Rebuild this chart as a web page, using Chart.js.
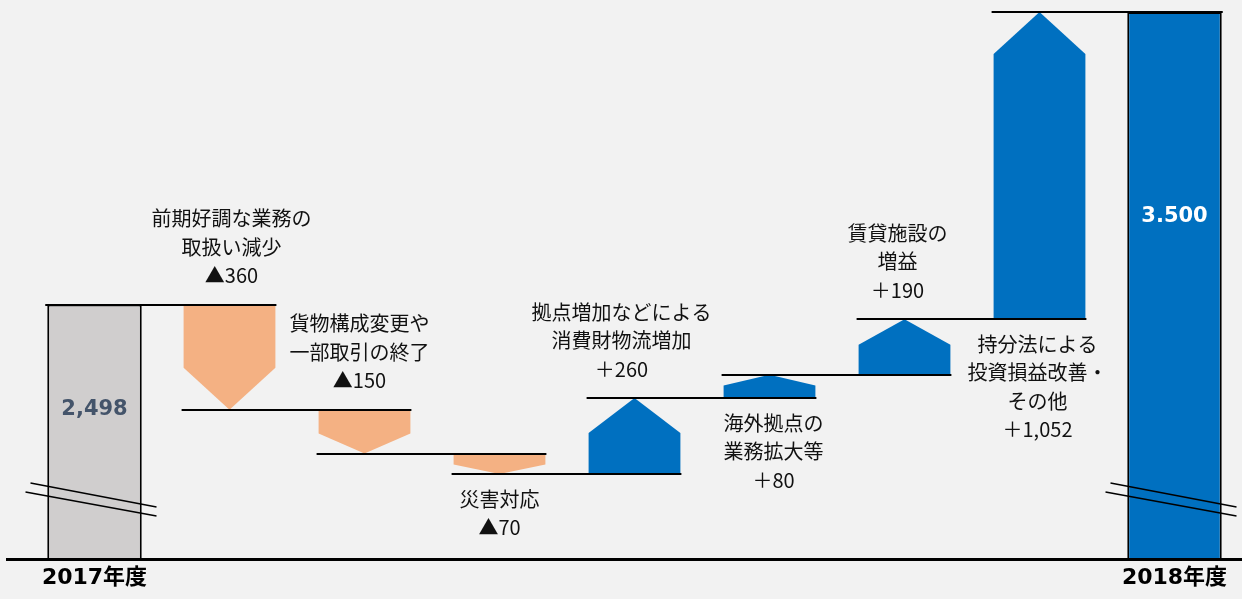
<!DOCTYPE html>
<html lang="ja">
<head>
<meta charset="utf-8">
<title>営業利益 増減要因</title>
<script src="https://cdn.jsdelivr.net/npm/chart.js@4.4.1/dist/chart.umd.min.js"></script>
<style>
	html, body { margin: 0; padding: 0; background: #f2f2f2; }
	#wrap { width: 1242px; height: 599px; position: relative; }
</style>
</head>
<body>
<div id="wrap"><canvas id="chart-waterfall"></canvas></div>
<script>
// data
const yearLabels = ['2017年度', '2018年度'];
const startValue = 2498;
const endValue = 3500;
const totalText = ['2,498', '3.500'];
const stepLabels = [
	['前期好調な業務の', '取扱い減少'],
	['貨物構成変更や', '一部取引の終了'],
	['災害対応'],
	['拠点増加などによる', '消費財物流増加'],
	['海外拠点の', '業務拡大等'],
	['賃貸施設の', '増益'],
	['持分法による', '投資損益改善・', 'その他']
];
const stepValues = [-360, -150, -70, 260, 80, 190, 1052];
// axis is broken at the bottom, so it does not start at zero
const axisMin = 1627;
const axisMax = 3541;

// label above / below the arrow
const labelSide = ['up', 'up', 'down', 'up', 'down', 'up', 'down'];
const labelShift = [2, -5, 0, -13, 4, -7, -2];

const COLOR_DOWN = '#f4b183';
const COLOR_UP = '#0070c0';
const TEXT_FONT = '20px "Noto Sans CJK JP", sans-serif';

// running levels
let levels = [startValue];
stepValues.forEach((v, i) => { levels.push(levels[i] + v); });

const n = stepValues.length + 2;
const labels = [yearLabels[0]].concat(stepValues.map(() => ''), [yearLabels[1]]);

let totalData = new Array(n).fill(null);
totalData[0] = [axisMin, startValue];
totalData[n - 1] = [axisMin, endValue];

let stepData = [null];
stepValues.forEach((v, i) => {
	stepData.push([levels[i], levels[i + 1]]);
});
stepData.push(null);

function fmtStep(v) {
	const s = Math.abs(v).toLocaleString('en-US');
	return (v < 0 ? '▲' : '＋') + s;
}

const waterfallPlugin = {
	id: 'waterfall',
	afterDatasetsDraw(chart) {
		const ctx = chart.ctx;
		const ys = chart.scales.y;
		const area = chart.chartArea;
		const tot = chart.getDatasetMeta(0).data;
		const steps = chart.getDatasetMeta(1).data;
		ctx.save();

		// arrows
		stepValues.forEach((v, i) => {
			const el = steps[i + 1];
			const p = el.getProps(['x', 'width'], true);
			const pFrom = ys.getPixelForValue(levels[i]);
			const pTo = ys.getPixelForValue(levels[i + 1]);
			const h = Math.abs(pTo - pFrom);
			const tip = Math.min(42, h * 0.46);
			const d = pTo > pFrom ? 1 : -1;
			const l = p.x - p.width / 2, r = p.x + p.width / 2;
			ctx.beginPath();
			ctx.moveTo(l, pFrom);
			ctx.lineTo(r, pFrom);
			ctx.lineTo(r, pTo - d * tip);
			ctx.lineTo(p.x, pTo);
			ctx.lineTo(l, pTo - d * tip);
			ctx.closePath();
			ctx.fillStyle = v < 0 ? COLOR_DOWN : COLOR_UP;
			ctx.fill();
		});

		// connector lines: each level spans its bar and the next one
		ctx.strokeStyle = '#000';
		ctx.lineWidth = 2;
		const all = [tot[0]].concat(steps.slice(1, n - 1), [tot[n - 1]]);
		levels.forEach((lv, i) => {
			const a = all[i].getProps(['x', 'width'], true);
			const b = all[i + 1].getProps(['x', 'width'], true);
			const yy = Math.round(ys.getPixelForValue(lv));
			ctx.beginPath();
			ctx.moveTo(a.x - a.width / 2 - 2, yy);
			ctx.lineTo(b.x + b.width / 2 + 1, yy);
			ctx.stroke();
		});

		// baseline
		ctx.lineWidth = 3;
		ctx.beginPath();
		ctx.moveTo(6, area.bottom + 0.5);
		ctx.lineTo(chart.width, area.bottom + 0.5);
		ctx.stroke();

		// break marks on the two totals
		ctx.lineWidth = 1.5;
		[0, n - 1].forEach((k) => {
			const x = tot[k].x;
			const yb = area.bottom;
			[[0, 0], [-5, 9]].forEach((o) => {
				ctx.beginPath();
				ctx.moveTo(x - 64 + o[0], yb - 76 + o[1]);
				ctx.lineTo(x + 62, yb - 52 + o[1]);
				ctx.stroke();
			});
		});

		// total values
		ctx.textAlign = 'center';
		ctx.textBaseline = 'middle';
		ctx.font = 'bold 21px "DejaVu Sans", "Noto Sans CJK JP", sans-serif';
		ctx.fillStyle = '#44546a';
		ctx.fillText(totalText[0], tot[0].x, 410);
		ctx.fillStyle = '#ffffff';
		ctx.fillText(totalText[1], tot[n - 1].x, 217);

		// step labels
		ctx.font = TEXT_FONT;
		ctx.fillStyle = '#111';
		stepValues.forEach((v, i) => {
			const x = steps[i + 1].x + labelShift[i];
			const lines = stepLabels[i].concat([fmtStep(v)]);
			const pFrom = ys.getPixelForValue(levels[i]);
			const pTo = ys.getPixelForValue(levels[i + 1]);
			const lh = 28.5;
			let y0;
			if (labelSide[i] === 'up') {
				y0 = Math.min(pFrom, pTo) - 29 - (lines.length - 1) * lh;
			} else {
				y0 = Math.max(pFrom, pTo) + 25;
			}
			lines.forEach((t, j) => {
				ctx.fillText(t, x, y0 + j * lh);
			});
		});
		ctx.restore();
	}
};

const configWaterfall = {
	type: 'bar',
	data: {
		labels: labels,
		datasets: [{
			label: '年度',
			data: totalData,
			backgroundColor: ['#d0cece', null, null, null, null, null, null, null, COLOR_UP],
			borderColor: '#000',
			borderWidth: 2,
			borderSkipped: 'bottom',
			barPercentage: 0.7,
			categoryPercentage: 1,
			grouped: false
		}, {
			label: '増減',
			data: stepData,
			backgroundColor: 'rgba(0,0,0,0)',
			barPercentage: 0.68,
			categoryPercentage: 1,
			grouped: false
		}]
	},
	options: {
		responsive: false,
		animation: false,
		layout: { padding: { left: 27, right: 0, top: 0, bottom: 0 } },
		plugins: {
			legend: { display: false },
			tooltip: { enabled: false },
			title: { display: false }
		},
		scales: {
			x: {
				grid: { display: false, drawTicks: false },
				border: { display: false },
				afterFit: (scale) => { scale.height = 40; },
				ticks: {
					padding: 6,
					maxRotation: 0,
					autoSkip: false,
					color: '#000',
					font: { family: '"DejaVu Sans", "Noto Sans CJK JP", sans-serif', size: 22, weight: 'bold' }
				}
			},
			y: {
				display: false,
				min: axisMin,
				max: axisMax
			}
		}
	},
	plugins: [waterfallPlugin]
};

const cv = document.getElementById('chart-waterfall');
cv.width = 1242;
cv.height = 599;
window.chartWaterfall = new Chart(cv.getContext('2d'), configWaterfall);
</script>
</body>
</html>
